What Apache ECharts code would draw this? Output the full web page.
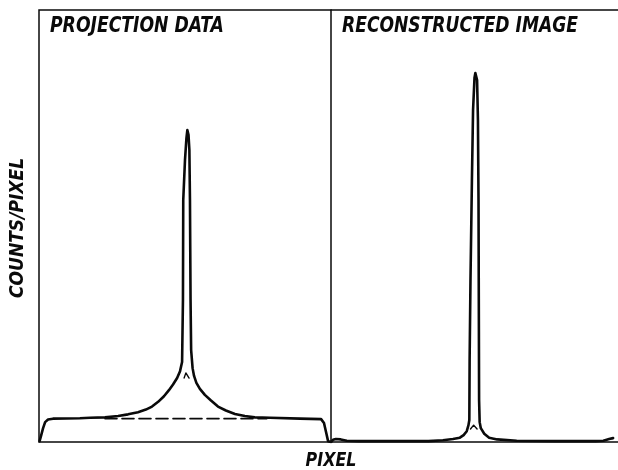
<!DOCTYPE html>
<html>
<head>
<meta charset="utf-8">
<script src="https://cdn.jsdelivr.net/npm/echarts@6/dist/echarts.min.js"></script>
<style>
html,body{margin:0;padding:0;background:#fff;}
#chart{width:618px;height:470px;}
</style>
</head>
<body>
<div id="chart"></div>
<script>
// ---- Data (pixel index 0-100, counts 0-100) ----
const panelTitles = ["PROJECTION DATA", "RECONSTRUCTED IMAGE"];
const yAxisTitle = "COUNTS/PIXEL";
const xAxisTitle = "PIXEL";

// Projection data: total profile (plateau + broad cusp + narrow spike)
const projX = [0.2,0.7,1.4,2.1,3.1,4.8,14.0,17.5,22.6,27.1,30.5,33.9,36.6,38.7,40.8,42.8,44.5,45.9,47.3,48.3,49.0,49.3,49.4,50.0,50.5,50.8,51.2,51.5,51.7,51.9,52.1,52.6,53.1,53.9,55.1,56.8,58.9,61.3,64.0,67.1,70.5,73.9,79.1,89.4,96.6,97.6,98.3,99.0,100];
const projY = [0.2,1.4,3.2,4.6,5.2,5.4,5.5,5.6,5.7,6.0,6.4,6.9,7.5,8.2,9.3,10.6,12.0,13.3,14.8,16.4,18.5,32.9,56.0,65.3,70.4,72.2,71.1,67.6,56.0,32.9,21.3,17.1,15.3,13.7,12.3,10.9,9.6,8.2,7.3,6.5,6.0,5.7,5.6,5.4,5.3,4.4,2.3,0.2,0];
// Broad cusp top hidden inside the spike
const projCuspX = [49.7,50.3,51.4];
const projCuspY = [14.8,16.0,14.8];
// Plateau level under the cusp (dashed)
const plateauX = [22.6,78.0];
const plateauY = [5.4,5.4];

// Reconstructed image profile
const reconX = [0,0.7,1.7,3.4,5.5,9.9,23.6,33.9,39.0,42.5,44.9,46.2,47.3,47.9,48.2,48.3,48.6,49.1,49.5,50.0,50.3,50.9,51.2,51.4,51.5,51.6,51.8,52.2,53.4,55.1,57.9,64.7,78.4,92.1,94.9,96.9,98.3];
const reconY = [0,0.5,0.7,0.6,0.3,0.2,0.2,0.2,0.4,0.7,1.0,1.6,2.5,3.9,5.1,19.0,37.5,60.6,76.9,84.3,85.4,83.8,74.5,56.0,32.9,9.7,4.6,3.2,1.9,1.0,0.6,0.3,0.2,0.2,0.3,0.7,0.9];
const reconCuspX = [48.6,49.7,50.9];
const reconCuspY = [3.0,3.9,3.0];

const zip = (xs, ys) => xs.map((x, i) => [x, ys[i]]);

const FONT = '"Liberation Sans Narrow", "DejaVu Sans Condensed", "Liberation Sans", sans-serif';
const INK = '#0a0a0a';

const axisX = (gi, pos, showLine) => ({
  type: 'value', gridIndex: gi, min: 0, max: 100, position: pos,
  axisLine: {show: showLine, onZero: false, lineStyle: {color: INK, width: 1.5}},
  axisTick: {show: false}, axisLabel: {show: false}, splitLine: {show: false}
});
const axisY = (gi) => ({
  type: 'value', gridIndex: gi, min: 0, max: 100,
  axisLine: {show: false}, axisTick: {show: false}, axisLabel: {show: false}, splitLine: {show: false}
});

const lineSeries = (gi, data, width, type) => ({
  type: 'line', xAxisIndex: gi, yAxisIndex: gi, data: data,
  showSymbol: false, symbol: 'none', smooth: false, silent: true, animation: false,
  lineStyle: {color: INK, width: width, type: type || 'solid', join: 'round', cap: 'round'}
});

const chart = echarts.init(document.getElementById('chart'), null, {renderer: 'canvas'});
chart.setOption({
  backgroundColor: '#ffffff',
  animation: false,
  grid: [
    {left: 39, top: 10, width: 292, height: 432, show: true, borderColor: INK, borderWidth: 1.5, backgroundColor: 'transparent'},
    {left: 331, top: 10, width: 292, height: 432, show: false}
  ],
  xAxis: [axisX(0, 'bottom', false), axisX(1, 'bottom', true), axisX(1, 'top', true)],
  yAxis: [axisY(0), axisY(1)],
  series: [
    lineSeries(0, zip(projX, projY), 2.6),
    lineSeries(0, zip(projCuspX, projCuspY), 1.4),
    lineSeries(0, zip(plateauX, plateauY), 1.6, [12, 5]),
    lineSeries(1, zip(reconX, reconY), 2.6),
    lineSeries(1, zip(reconCuspX, reconCuspY), 1.4)
  ],
  graphic: [
    {type: 'text', x: 50, y: 26, scaleX: 0.87, silent: true,
     style: {text: panelTitles[0], font: 'italic bold 22px ' + FONT, fill: INK, align: 'left', verticalAlign: 'middle'}},
    {type: 'text', x: 342, y: 26, scaleX: 0.865, silent: true,
     style: {text: panelTitles[1], font: 'italic bold 22px ' + FONT, fill: INK, align: 'left', verticalAlign: 'middle'}},
    {type: 'text', x: 18, y: 228, rotation: Math.PI / 2, silent: true,
     style: {text: yAxisTitle, font: 'italic bold 19px ' + FONT, fill: INK, align: 'center', verticalAlign: 'middle'}},
    {type: 'text', x: 331, y: 461, scaleX: 0.93, silent: true,
     style: {text: xAxisTitle, font: 'italic bold 19px ' + FONT, fill: INK, align: 'center', verticalAlign: 'middle'}}
  ]
});
</script>
</body>
</html>
